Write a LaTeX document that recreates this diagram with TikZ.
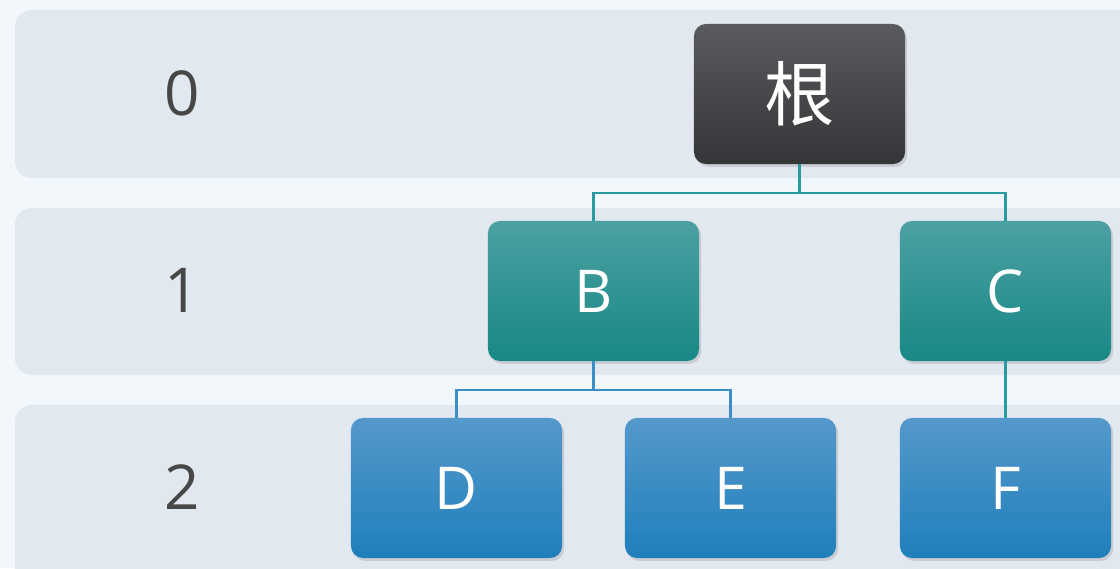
\documentclass[tikz,border=0pt]{standalone}
\usepackage{fontspec}
\setmainfont{Open Sans}
\newfontfamily\cjk{Noto Sans CJK SC}
\usepackage{tikz}
\usetikzlibrary{shadows}
\definecolor{pagebg}{HTML}{F1F7FB}
\definecolor{bandbg}{HTML}{E2E8F0}
\definecolor{darktop}{HTML}{5A5B5E}
\definecolor{darkbot}{HTML}{343537}
\definecolor{tealtop}{HTML}{4CA0A2}
\definecolor{tealbot}{HTML}{188886}
\definecolor{bluetop}{HTML}{5599CC}
\definecolor{bluebot}{HTML}{1F7FBA}
\definecolor{tealline}{HTML}{2A9A9E}
\definecolor{blueline}{HTML}{3A8FC6}
\tikzset{
    band/.style={fill=bandbg, rounded corners=12pt},
    level/.style={text=black!72, font=\fontsize{44}{44}\selectfont},
    box/.style={rounded corners=8.5pt, minimum width=5.275cm, minimum height=3.5cm,
        text=white, font=\fontsize{42}{42}\selectfont,
        drop shadow={opacity=0.25, shadow xshift=1.5pt, shadow yshift=-2pt}},
    rootbox/.style={box, top color=darktop, bottom color=darkbot},
    midbox/.style={box, top color=tealtop, bottom color=tealbot},
    leafbox/.style={box, top color=bluetop, bottom color=bluebot},
    link/.style={line width=1.6pt}
}

\begin{document}
\begin{tikzpicture}[x=0.025cm, y=-0.025cm]
    \useasboundingbox (0,0) rectangle (1120,568);
    \clip (0,0) rectangle (1120,568);
    \fill[pagebg] (0,0) rectangle (1120,568);
    % level bands
    \fill[band] (15,10) rectangle (1150,178);
    \fill[band] (15,208) rectangle (1150,375);
    \fill[band] (15,405) rectangle (1150,600);
    \node[level] at (182,93) (lvl0) {0};
    \node[level] at (182,290) (lvl1) {1};
    \node[level] at (182,487) (lvl2) {2};
    % tree
    \node[rootbox] at (799.5,94) (root) {\cjk\fontsize{50}{50}\selectfont 根};
    \node[midbox] at (593.5,291) (nb) {B};
    \node[midbox] at (1005.5,291) (nc) {C};
    \node[leafbox] at (456.5,488) (nd) {D};
    \node[leafbox] at (730.5,488) (ne) {E};
    \node[leafbox] at (1005.5,488) (nf) {F};
    \coordinate (j0) at (799.5,193);
    \coordinate (j1) at (593.5,390);
    \draw[link, tealline] (root.south) -- (j0) -| (nb.north);
    \draw[link, tealline] (j0) -| (nc.north);
    \draw[link, blueline] (nb.south) -- (j1) -| (nd.north);
    \draw[link, blueline] (j1) -| (ne.north);
    \draw[link, tealline] (nc.south) -- (nf.north);
\end{tikzpicture}
\end{document}
